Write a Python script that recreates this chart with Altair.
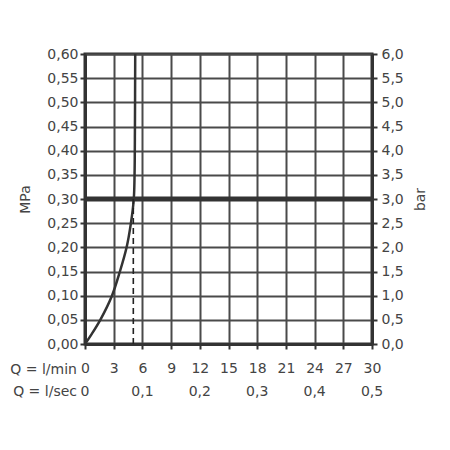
import altair as alt
import pandas as pd

# Curve: flow (l/min) vs pressure (MPa)
q_curve = [0, 0.68, 1.6, 2.82, 3.65, 4.35, 4.8, 5.1, 5.18, 5.22, 5.25]
p_curve = [0, 0.02, 0.05, 0.10, 0.15, 0.20, 0.25, 0.30, 0.35, 0.45, 0.60]

# reference lines
p_ref = 0.30        # thick horizontal line (MPa)
q_ref = 5.05        # dashed vertical line (l/min)

x_ticks = [0, 3, 6, 9, 12, 15, 18, 21, 24, 27, 30]
y_ticks = [0, 0.05, 0.10, 0.15, 0.20, 0.25, 0.30, 0.35, 0.40, 0.45, 0.50, 0.55, 0.60]
bar_ticks = [0, 0.5, 1.0, 1.5, 2.0, 2.5, 3.0, 3.5, 4.0, 4.5, 5.0, 5.5, 6.0]
sec_values = [0, 0.1, 0.2, 0.3, 0.4, 0.5]
sec_labels = ["0", "0,1", "0,2", "0,3", "0,4", "0,5"]
row_labels = ["Q = l/min", "Q = l/sec"]

FONT = "DejaVu Sans"
FS = 14
DARK = "#333333"
TXT = "#444444"
GRID = "#4a4a4a"
W, H = 287, 290

curve_df = pd.DataFrame({"q": q_curve, "p": p_curve})
xs = alt.Scale(domain=[0, 30], nice=False, zero=True)
ys = alt.Scale(domain=[0, 0.6], nice=False)

x_axis = alt.Axis(
    values=x_ticks, title=None, grid=True, gridColor=GRID, gridWidth=2,
    domainColor=DARK, domainWidth=3, tickColor=DARK, tickWidth=2, tickSize=5,
    labelFont=FONT, labelFontSize=FS, labelColor=TXT, labelPadding=12,
    labelFlush=False, labelOverlap=False)
y_axis = alt.Axis(
    values=y_ticks, title="MPa", grid=True, gridColor=GRID, gridWidth=2,
    domainColor=DARK, domainWidth=3, tickColor=DARK, tickWidth=2, tickSize=5,
    labelFont=FONT, labelFontSize=FS, labelColor=TXT, labelPadding=2,
    labelOverlap=False, labelFlush=False,
    labelExpr="replace(format(datum.value, '.2f'), '.', ',')",
    titleFont=FONT, titleFontSize=FS, titleFontWeight="normal", titleColor=TXT,
    titleAngle=-90, titleX=-60, titleY=H / 2, titleAlign="center",
    titleBaseline="middle")

curve = alt.Chart(curve_df).mark_line(
    color=DARK, strokeWidth=2.5, interpolate="catmull-rom").encode(
    x=alt.X("q:Q", scale=xs, axis=x_axis),
    y=alt.Y("p:Q", scale=ys, axis=y_axis), order="p:Q")

hline = alt.Chart(pd.DataFrame({"p": [p_ref]})).mark_rule(
    color=DARK, strokeWidth=5).encode(y=alt.Y("p:Q", scale=ys, axis=y_axis))

vline = alt.Chart(pd.DataFrame({"q": [q_ref], "p0": [0], "p1": [p_ref]})).mark_rule(
    color="#222222", strokeWidth=1.6, strokeDash=[6, 4]).encode(
    x=alt.X("q:Q", scale=xs, axis=x_axis),
    y=alt.Y("p0:Q", scale=ys, axis=y_axis), y2="p1:Q")

sec_df = pd.DataFrame({"q": [v * 60 for v in sec_values], "lab": sec_labels})
sec_text = alt.Chart(sec_df).mark_text(
    font=FONT, fontSize=FS, color=TXT, baseline="middle", align="center").encode(
    x=alt.X("q:Q", scale=xs, axis=x_axis), y=alt.value(H + 48), text="lab:N")

row_df = pd.DataFrame({"lab": row_labels, "yy": [H + 26, H + 48]})
row_text = alt.Chart(row_df).mark_text(
    font=FONT, fontSize=FS, color=TXT, baseline="middle", align="right").encode(
    x=alt.value(-8), y=alt.Y("yy:Q", scale=None), text="lab:N")

left = alt.layer(curve, hline, vline, sec_text, row_text)

bar_df = pd.DataFrame({"b": [0, 6]})
right = alt.Chart(bar_df).mark_point(opacity=0).encode(
    y=alt.Y("b:Q", scale=alt.Scale(domain=[0, 6], nice=False), axis=alt.Axis(
        orient="right", values=bar_ticks, title="bar", grid=False,
        domainColor=DARK, domainWidth=3, tickColor=DARK, tickWidth=2, tickSize=5,
        labelFont=FONT, labelFontSize=FS, labelColor=TXT, labelPadding=4,
        labelOverlap=False, labelFlush=False,
        labelExpr="replace(format(datum.value, '.1f'), '.', ',')",
        titleFont=FONT, titleFontSize=FS, titleFontWeight="normal", titleColor=TXT,
        titleAngle=-90, titleX=48, titleY=H / 2, titleAlign="center",
        titleBaseline="middle")))

chart = alt.layer(left, right).resolve_scale(y="independent").properties(
    width=W, height=H,
    autosize=alt.AutoSizeParams(type="none"),
    padding={"left": 77, "top": 46, "right": 70, "bottom": 90},
    background="white",
).configure_view(stroke=DARK, strokeWidth=3)

chart.save("out.html", embed_options={"renderer": "svg", "actions": False})
